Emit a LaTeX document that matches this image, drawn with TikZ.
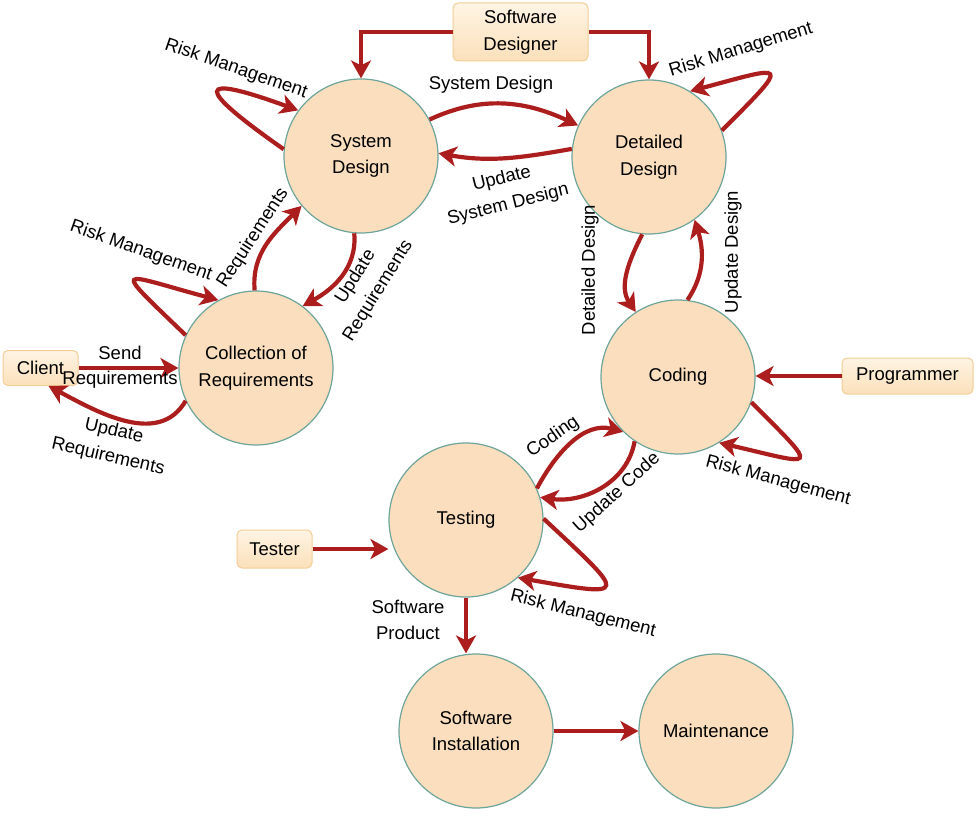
\documentclass[tikz,border=0pt]{standalone}
\usepackage{fontspec}
\setmainfont{Liberation Sans}
\usetikzlibrary{arrows.meta}
\definecolor{arrowred}{RGB}{172,30,30}
\definecolor{circfill}{RGB}{250,222,190}
\definecolor{circline}{RGB}{110,165,155}
\definecolor{boxtop}{RGB}{255,244,228}
\definecolor{boxbot}{RGB}{251,224,186}
\definecolor{boxline}{RGB}{243,205,150}
\begin{document}
\begin{tikzpicture}[x=1pt,y=1pt,
  every node/.style={font=\fontsize{18.5}{26.5}\selectfont, text=black},
  proc/.style={circle, draw=circline, line width=1.2pt, fill=circfill, minimum size=154pt, inner sep=0pt, align=center},
  actor/.style={rectangle, rounded corners=5pt, draw=boxline, line width=1pt, top color=boxtop, bottom color=boxbot, inner sep=0pt, align=center},
  flow/.style={draw=arrowred, line width=4.2pt, -{Stealth[length=18pt,width=20pt,inset=5pt]}},
  lbl/.style={align=center, inner sep=0pt}
]
\useasboundingbox (0,0) rectangle (980,-818);

% processes
\node[proc] (sd) at (361,-156) {System\\Design};
\node[proc] (dd) at (649,-157) {Detailed\\Design};
\node[proc] (cor) at (256,-368) {Collection of\\Requirements};
\node[proc] (coding) at (678,-377) {Coding};
\node[proc] (testing) at (466,-520) {Testing};
\node[proc] (si) at (476,-731) {Software\\Installation};
\node[proc] (maint) at (716,-731) {Maintenance};

% actors
\node[actor, minimum width=135pt, minimum height=58pt] (swd) at (520.5,-32) {Software\\Designer};
\node[actor, minimum width=75pt, minimum height=35pt] (client) at (40.5,-368) {Client};
\node[actor, minimum width=131pt, minimum height=36pt] (prog) at (907.5,-376) {Programmer};
\node[actor, minimum width=75pt, minimum height=38pt] (tester) at (274.5,-549) {Tester};

% software designer
\draw[flow] (swd.west) -| (sd.north);
\draw[flow] (swd.east) -| (dd.north);

% system design <-> detailed design
\draw[flow] (sd.28) to[out=25,in=155] (dd.156);
\draw[flow] (dd.174) to[out=190,in=-10] (sd.2);
\node[lbl] (l1) at (491,-85) {System Design};
\node[lbl, rotate=14] (l2) at (505,-192) {Update\\System Design};

% self loops
\draw[flow] (sd.175) to[out=145,in=160,distance=110pt] (sd.144);
\node[lbl, rotate=-19] (l3) at (236,-69) {Risk Management};
\draw[flow] (dd.20) to[out=45,in=15,distance=100pt] (dd.58);
\node[lbl, rotate=17] (l4) at (741,-50) {Risk Management};
\draw[flow] (cor.155) to[out=136,in=165,distance=105pt] (cor.119);
\node[lbl, rotate=-19.5] (l5) at (141,-251) {Risk Management};
\draw[flow] (coding.-19) to[out=-45,in=-13,distance=100pt] (coding.-58);
\node[lbl, rotate=-15] (l6) at (778,-481) {Risk Management};
\draw[flow] (testing.1) to[out=-43,in=-10,distance=115pt] (testing.-48);
\node[lbl, rotate=-14] (l7) at (583,-614) {Risk Management};

% requirements <-> system design
\draw[flow] (cor.91) to[out=95,in=225] (sd.220);
\node[lbl, rotate=57] (l8) at (253,-238) {Requirements};
\draw[flow] (sd.265) to[out=-85,in=29] (cor.53);
\node[lbl, rotate=58] (l9) at (367,-284) {Update\\Requirements};

% client
\draw[flow] (client.east) -- (client.east -| cor.west);
\node[lbl] (l10) at (120,-353) {Send};
\node[lbl] (l11) at (120,-380) {Requirements};
\draw[flow] (cor.205) to[out=240,in=-28] ([xshift=8pt]client.south);
\node[lbl, rotate=-13] (l12) at (111,-444) {Update\\Requirements};

% detailed design <-> coding
\draw[flow] (dd.265) to[out=243,in=124] (coding.123);
\node[lbl, rotate=90] (l13) at (590,-270) {Detailed Design};
\draw[flow] (coding.83) to[out=56,in=287] (dd.306);
\node[lbl, rotate=90] (l14) at (733,-252) {Update Design};

% programmer
\draw[flow] (prog.west) -- (prog.west -| coding.east);

% testing <-> coding
\draw[flow] (testing.24) to[out=62,in=165] (coding.225);
\node[lbl, rotate=35] (l15) at (553,-437) {Coding};
\draw[flow] (coding.236) to[out=260,in=-8] (testing.17);
\node[lbl, rotate=42] (l16) at (617,-493) {Update Code};

% tester
\draw[flow] (tester.east) -- (tester.east -| testing.west);

% testing -> installation -> maintenance
\draw[flow] (testing.south) -- (testing.south |- si.north);
\node[lbl] (l17) at (408,-620) {Software\\Product};
\draw[flow] (si.east) -- (maint.west);
\end{tikzpicture}
\end{document}
